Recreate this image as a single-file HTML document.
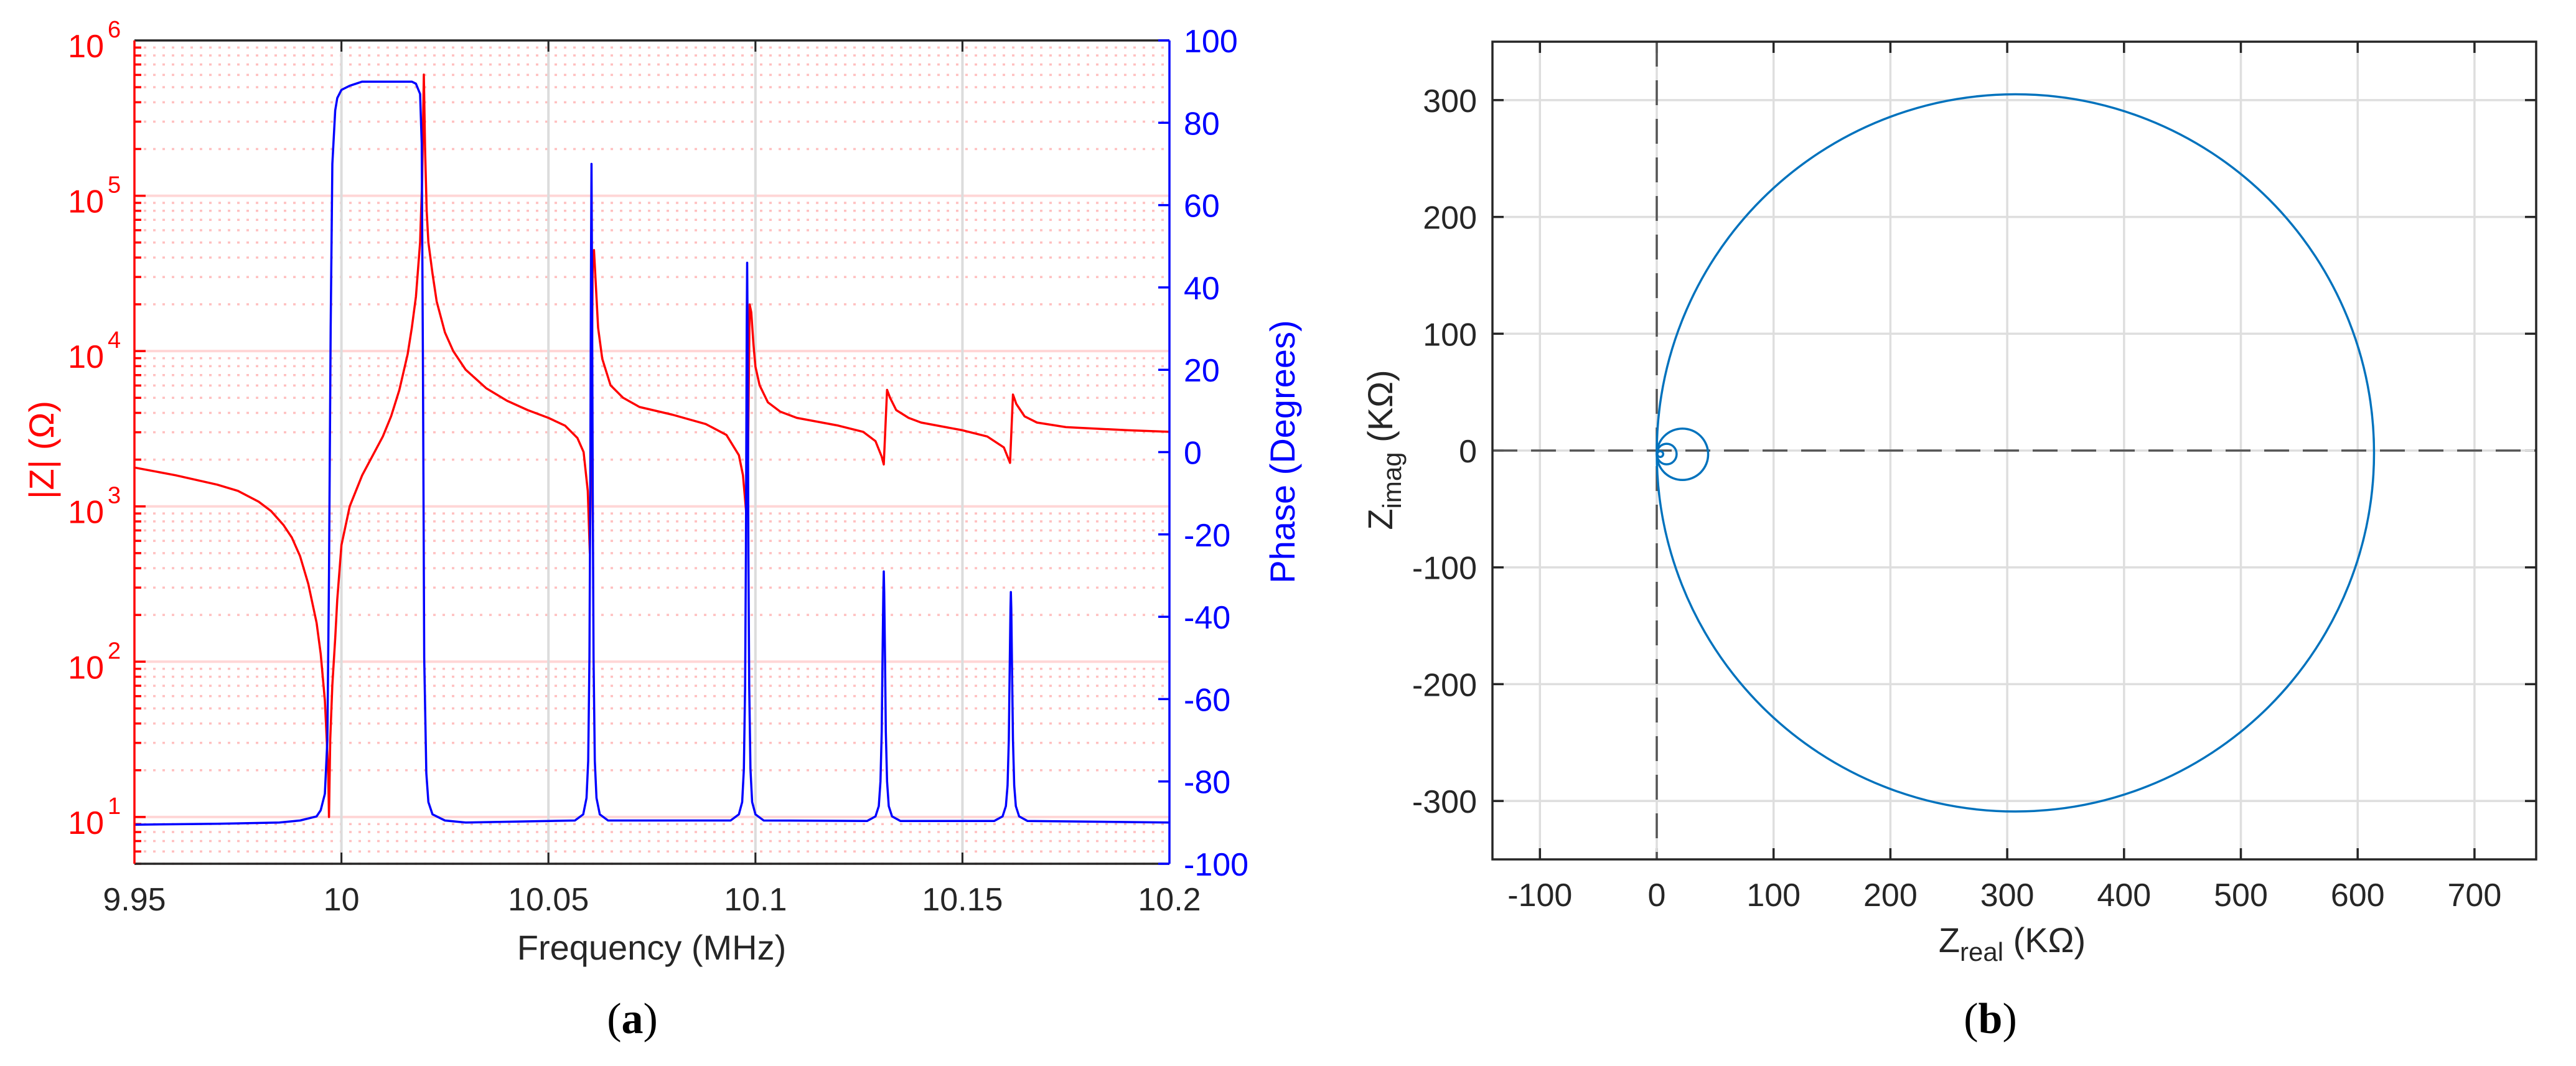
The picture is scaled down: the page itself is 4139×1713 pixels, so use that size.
<!DOCTYPE html>
<html><head><meta charset="utf-8"><style>
html,body{margin:0;padding:0;background:#fff;}
svg{display:block;font-family:"Liberation Sans",Arial,sans-serif;}
</style></head>
<body>
<svg id="fig" width="4139" height="1713" viewBox="0 0 4139 1713" xmlns="http://www.w3.org/2000/svg">
<rect width="4139" height="1713" fill="#fff"/>
<g id="left"></g>
<g id="right"></g>
<text x="1016" y="1660" text-anchor="middle" font-family="Liberation Serif,serif" font-size="70">(<tspan font-weight="bold">a</tspan>)</text>
<text x="3198" y="1660" text-anchor="middle" font-family="Liberation Serif,serif" font-size="70">(<tspan font-weight="bold">b</tspan>)</text>
</svg>
<script>
// ---------- Chart (a) data ----------
const magFreq = [9.95,9.96,9.97,9.975,9.98,9.983,9.986,9.988,9.990,9.992,9.994,9.995,9.996,9.9968,9.997,
 9.9973,9.9978,9.9985,9.999,10.0,10.002,10.005,10.008,10.01,10.012,10.014,10.016,10.017,10.018,10.019,10.0195,10.0199,
 10.0202,10.0206,10.021,10.022,10.023,10.025,10.027,10.03,10.035,10.04,10.045,10.05,10.054,10.057,10.0585,10.0595,10.06,
 10.0603,10.0607,10.061,10.0615,10.062,10.063,10.065,10.068,10.072,10.08,10.088,10.093,10.096,10.097,10.0978,10.0982,
 10.0986,10.099,10.0995,10.1,10.101,10.103,10.106,10.11,10.12,10.126,10.129,10.1305,10.131,10.1318,10.1325,10.134,10.137,
 10.14,10.15,10.156,10.16,10.1615,10.1622,10.163,10.165,10.168,10.175,10.19,10.2];
const magLog10 = [3.25,3.20,3.14,3.10,3.03,2.97,2.88,2.80,2.68,2.50,2.25,2.05,1.75,1.3,1.0,
 1.5,1.85,2.15,2.4,2.75,3.0,3.2,3.35,3.45,3.58,3.75,3.98,4.15,4.35,4.7,5.1,5.78,
 5.3,4.9,4.7,4.5,4.32,4.12,4.0,3.88,3.76,3.68,3.62,3.57,3.52,3.44,3.35,3.1,2.7,
 3.3,4.6,4.65,4.4,4.15,3.95,3.78,3.7,3.64,3.59,3.53,3.46,3.33,3.2,2.95,3.3,
 4.3,4.25,4.05,3.9,3.78,3.67,3.61,3.57,3.52,3.48,3.42,3.32,3.27,3.75,3.7,3.62,3.57,
 3.54,3.49,3.45,3.38,3.28,3.72,3.66,3.58,3.54,3.51,3.49,3.48];
const phFreq = [9.95,9.97,9.985,9.99,9.994,9.995,9.996,9.9966,9.997,9.9974,9.9978,9.9985,9.999,10.0,10.002,10.005,10.017,10.018,10.019,10.0194,10.0197,10.02,10.0205,10.021,10.022,10.025,10.03,
 10.0564,10.0584,10.0592,10.0596,10.0599,10.0601,10.0603,10.0604,10.0605,10.0607,10.0609,10.0612,10.0616,10.0624,10.0644,
 10.094,10.096,10.0968,10.0972,10.0975,10.0977,10.0979,10.098,10.0981,10.0983,10.0985,10.0988,10.0992,10.1,10.102,
 10.127,10.129,10.1298,10.1302,10.1305,10.1307,10.1309,10.131,10.1311,10.1313,10.1315,10.1318,10.1322,10.133,10.135,
 10.1577,10.1597,10.1605,10.1609,10.1612,10.1614,10.1616,10.1617,10.1618,10.162,10.1622,10.1625,10.1629,10.1637,10.1657,10.2];
const phDeg = [-90.5,-90.3,-90,-89.5,-88.5,-87,-83,-70,-30,30,70,83,86,88,89,90,90,89.5,87,75,20,-50,-78,-85,-88,-89.5,-90,
 -89.5,-88,-84,-75,-50,-10,50,70,50,-10,-50,-75,-84,-88,-89.5,
 -89.5,-88,-85,-77,-57,-25,30,46,30,-25,-57,-77,-85,-88,-89.5,
 -89.6,-88.5,-86,-80,-68,-50,-34,-29,-34,-50,-68,-80,-86,-88.5,-89.6,
 -89.6,-88.5,-86,-81,-70,-54,-38,-34,-38,-54,-70,-81,-86,-88.5,-89.6,-90];
const xTicks = [9.95,10.0,10.05,10.1,10.15,10.2];
const xTickLabels = ["9.95","10","10.05","10.1","10.15","10.2"];
const magDecades = [1,2,3,4,5,6];
const phTicks = [-100,-80,-60,-40,-20,0,20,40,60,80,100];

// ---------- Chart (b) data ----------
const loopCx = [307,22,8.5,3];
const loopCy = [-2,-3.2,-3,-3];
const loopRx = [307,22,8.5,2.5];
const loopRy = [307,22,8.8,2.5];
const nqXTicks = [-100,0,100,200,300,400,500,600,700];
const nqYTicks = [-300,-200,-100,0,100,200,300];

const NS="http://www.w3.org/2000/svg";
function mk(parent,tag,attrs){const e=document.createElementNS(NS,tag);for(const k in attrs)e.setAttribute(k,attrs[k]);parent.appendChild(e);return e;}

// ===== Chart A =====
const L=document.getElementById('left');
const aL=216,aR=1879,aT=65,aB=1388;
const xA=f=>aL+(f-9.95)/0.25*(aR-aL);
const yL=lg=>aT+(6-lg)/(6-Math.log10(5))*(aB-aT);
const yZ=v=>yL(Math.log10(v));
const yP=p=>aT+(100-p)/200*(aB-aT);

for(let d=0;d<=5;d++){for(let k=1;k<=9;k++){const v=k*Math.pow(10,d);if(v<5||v>1e6)continue;const y=yZ(v);
 if(k===1){const g=mk(L,'line',{x1:aL,x2:aR,y1:y,y2:y,stroke:'#ffd6d6','stroke-width':4});

}
 else{const g=mk(L,'line',{x1:aL,x2:aR,y1:y,y2:y,stroke:'#ffc0c0','stroke-width':3.5,'stroke-dasharray':'4 11'});

}
 const t=mk(L,'line',{x1:aL,x2:aL+(k===1?18:11),y1:y,y2:y,stroke:'#f00','stroke-width':3.5});


}}
xTicks.forEach((f,i)=>{const x=xA(f);
 if(i>0&&i<xTicks.length-1){const g=mk(L,'line',{x1:x,x2:x,y1:aT,y2:aB,stroke:'#dcdcdc','stroke-width':4});

}
 const t1=mk(L,'line',{x1:x,x2:x,y1:aB,y2:aB-18,stroke:'#262626','stroke-width':3});


 const t2=mk(L,'line',{x1:x,x2:x,y1:aT,y2:aT+18,stroke:'#262626','stroke-width':3});


 const tx=mk(L,'text',{x:x,y:1463,'text-anchor':'middle','font-size':52,fill:'#262626'});tx.textContent=xTickLabels[i];


});
let d='';magFreq.forEach((f,i)=>{d+=(i?'L':'M')+xA(f).toFixed(1)+' '+yL(magLog10[i]).toFixed(1);});
const pm=mk(L,'path',{d:d,fill:'none',stroke:'#ff0000','stroke-width':3.5,'stroke-linejoin':'round'});


d='';phFreq.forEach((f,i)=>{d+=(i?'L':'M')+xA(f).toFixed(1)+' '+yP(phDeg[i]).toFixed(1);});
const pp=mk(L,'path',{d:d,fill:'none',stroke:'#0000ff','stroke-width':3.5,'stroke-linejoin':'round'});


const ab=mk(L,'path',{d:`M${aL} ${aT}H${aR}M${aL} ${aB}H${aR}`,stroke:'#262626','stroke-width':3.5,fill:'none'});


const al=mk(L,'line',{x1:aL,x2:aL,y1:aT,y2:aB,stroke:'#f00','stroke-width':3.5});


const ar=mk(L,'line',{x1:aR,x2:aR,y1:aT,y2:aB,stroke:'#00f','stroke-width':3.5});


magDecades.forEach(e=>{const y=yZ(Math.pow(10,e));
 const t=mk(L,'text',{x:167,y:y+27,'text-anchor':'end','font-size':52,fill:'#f00'});t.textContent='10';


 const s=mk(L,'text',{x:173,y:y-5,'font-size':38,fill:'#f00'});s.textContent=String(e);


});
phTicks.forEach(p=>{const y=yP(p);
 const t=mk(L,'line',{x1:aR,x2:aR-18,y1:y,y2:y,stroke:'#00f','stroke-width':3.5});


 const tx=mk(L,'text',{x:1902,y:y+19,'font-size':52,fill:'#00f'});tx.textContent=String(p);


});
const xl=mk(L,'text',{x:1047,y:1542,'text-anchor':'middle','font-size':56,fill:'#262626'});xl.textContent='Frequency (MHz)';


const yl=mk(L,'text',{x:0,y:0,'text-anchor':'middle','font-size':56,fill:'#f00',transform:'translate(86,723) rotate(-90)'});yl.textContent='|Z| (Ω)';


const yr=mk(L,'text',{x:0,y:0,'text-anchor':'middle','font-size':56,fill:'#00f',transform:'translate(2080,726) rotate(-90)'});yr.textContent='Phase (Degrees)';



// ===== Chart B =====
const R=document.getElementById('right');
const bL=2398,bR=4075,bT=67,bB=1381;
const x0=2662,y0=724,sc=1.877;
const xB=v=>x0+v*sc, yB=v=>y0-v*sc;
nqXTicks.forEach(v=>{const x=xB(v);
 if(v!==0){const g=mk(R,'line',{x1:x,x2:x,y1:bT,y2:bB,stroke:'#dedede','stroke-width':3.5});

}
 const t=mk(R,'path',{d:`M${x} ${bT}v18M${x} ${bB}v-18`,stroke:'#262626','stroke-width':3.5});


 const tx=mk(R,'text',{x:x,y:1456,'text-anchor':'middle','font-size':52,fill:'#262626'});tx.textContent=String(v);


});
nqYTicks.forEach(v=>{const y=yB(v);
 if(v!==0){const g=mk(R,'line',{x1:bL,x2:bR,y1:y,y2:y,stroke:'#dedede','stroke-width':3.5});

}
 const t=mk(R,'path',{d:`M${bL} ${y}h18M${bR} ${y}h-18`,stroke:'#262626','stroke-width':3.5});


 const tx=mk(R,'text',{x:2373,y:y+19,'text-anchor':'end','font-size':52,fill:'#262626'});tx.textContent=String(v);


});
const zh=mk(R,'path',{d:`M${bL} ${yB(0)}H${bR}`,stroke:'#dedede','stroke-width':3.5});


const zv=mk(R,'path',{d:`M${xB(0)} ${bT}V${bB}`,stroke:'#dedede','stroke-width':3.5});


const dh=mk(R,'line',{x1:bL,x2:bR,y1:yB(0),y2:yB(0),stroke:'#555','stroke-width':3.5,'stroke-dasharray':'40 22'});


const dv=mk(R,'line',{x1:xB(0),x2:xB(0),y1:bT,y2:bB,stroke:'#555','stroke-width':3.5,'stroke-dasharray':'40 22'});


loopCx.forEach((c,i)=>{const e=mk(R,'ellipse',{cx:xB(c),cy:yB(loopCy[i]),rx:loopRx[i]*sc,ry:loopRy[i]*sc,fill:'none',stroke:'#0072bd','stroke-width':3.5});


});
const bx=mk(R,'rect',{x:bL,y:bT,width:bR-bL,height:bB-bT,fill:'none',stroke:'#262626','stroke-width':3.5});


const nx=mk(R,'text',{x:3233,y:1530,'text-anchor':'middle','font-size':56,fill:'#262626'});
nx.innerHTML='Z<tspan font-size="42" dy="14">real</tspan><tspan dy="-14"> (KΩ)</tspan>';


const ny=mk(R,'text',{x:0,y:0,'text-anchor':'middle','font-size':56,fill:'#262626',transform:'translate(2237,723) rotate(-90)'});
ny.innerHTML='Z<tspan font-size="42" dy="14">imag</tspan><tspan dy="-14"> (KΩ)</tspan>';


</script>
</body></html>
